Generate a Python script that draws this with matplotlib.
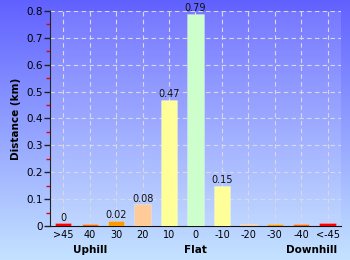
import numpy as np
import matplotlib
matplotlib.use("Agg")
import matplotlib.pyplot as plt

# gradient categories, distance in km
categorias = ['>45', '40', '30', '20', '10', '0', '-10', '-20', '-30', '-40', '<-45']
distancias = [0.01, 0.008, 0.02, 0.08, 0.47, 0.79, 0.15, 0.006, 0.008, 0.008, 0.01]
rotulos = ['0', '', '0.02', '0.08', '0.47', '0.79', '0.15', '', '', '', '']
cores = ['#ff0000', '#ff6600', '#ff9900', '#ffcc99', '#ffff99', '#ccffcc',
         '#ffff99', '#ffcc99', '#ff9900', '#ff6600', '#ff0000']
grupos = ['Uphill', 'Flat', 'Downhill']
grupos_pos = [1, 5, 9.4]

fig = plt.figure(figsize=(3.5, 2.6), dpi=100)

# fundo em degrade
bg = fig.add_axes([0, 0, 1, 1])
grad = np.linspace(0, 1, 256).reshape(-1, 1)
topo = np.array([0.38, 0.38, 1.0])
base = np.array([0.77, 0.89, 1.0])
img = topo + (base - topo) * grad[:, :, None]
bg.imshow(img, aspect='auto', extent=[0, 1, 0, 1])
bg.axis('off')

ax = fig.add_axes([0.143, 0.131, 0.831, 0.827])
ax.set_facecolor((1, 1, 1, 0.12))
x = np.arange(len(categorias))
ax.bar(x, distancias, width=0.62, color=cores, edgecolor=(1, 1, 1, 0.3), linewidth=0.5, zorder=3)
for xi, v, r in zip(x, distancias, rotulos):
    if r:
        ax.text(xi, v + 0.002, r, ha='center', va='bottom', fontsize=7, color='#111111', zorder=4)

ax.set_xlim(-0.5, 10.5)
ax.set_ylim(0, 0.8)
ax.set_xticks(x)
ax.set_xticklabels(categorias, fontsize=7)
ax.set_yticks(np.arange(0, 0.81, 0.1))
ax.set_yticklabels(['0', '0.1', '0.2', '0.3', '0.4', '0.5', '0.6', '0.7', '0.8'], fontsize=7.5)
ax.set_yticks(np.arange(0.05, 0.8, 0.1), minor=True)
ax.tick_params(axis='y', which='major', length=4, width=1, color='#222222', pad=1)
ax.tick_params(axis='y', which='minor', length=3, width=1, color='#ee0000')
ax.tick_params(axis='x', length=0, pad=3)
ax.grid(True, color=(0.85, 0.85, 0.9, 0.35), linestyle=(0, (4, 3)), linewidth=0.8, zorder=0)
for s in ['top', 'right']:
    ax.spines[s].set_visible(False)
ax.spines['left'].set_color('#222222')
ax.spines['bottom'].set_color('#111111')
ax.spines['bottom'].set_zorder(2)
ax.set_ylabel('Distance (km)', fontsize=7.5, fontweight='bold', labelpad=4)

for g, p in zip(grupos, grupos_pos):
    ax.text(p, -0.09, g, ha='center', va='center', fontsize=7.5, fontweight='bold', clip_on=False)

fig.savefig('out.png', dpi=100)
